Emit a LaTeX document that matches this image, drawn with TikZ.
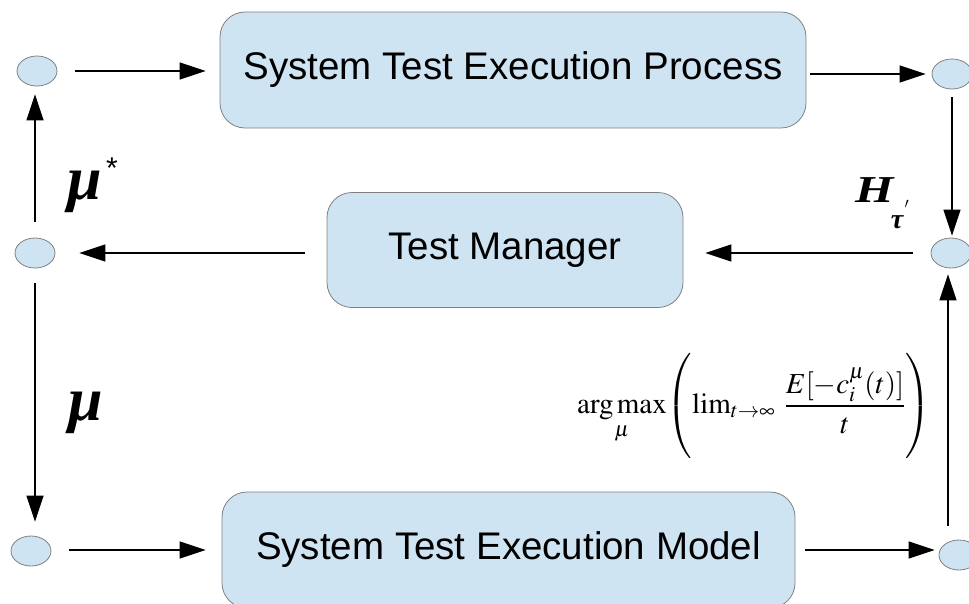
\documentclass[tikz,border=0pt]{standalone}
\usepackage{amsmath}
\usepackage{mathptmx}
\usepackage[no-math]{fontspec}
\setsansfont{Liberation Sans}
\newfontfamily\lserif{Liberation Serif}
\usetikzlibrary{arrows.meta,shapes.geometric}
\definecolor{boxblue}{RGB}{207,228,242}
\definecolor{edgegray}{RGB}{128,128,128}
\begin{document}
\begin{tikzpicture}[x=1pt,y=-1pt,
  dot/.style={ellipse, draw=edgegray, fill=boxblue, minimum width=40pt, minimum height=30pt, inner sep=0pt, line width=0.8pt},
  proc/.style={rectangle, rounded corners=25pt, draw=edgegray, fill=boxblue, inner sep=0pt, line width=0.8pt,
    font=\sffamily\fontsize{38.5}{42}\selectfont},
  arr/.style={-{Triangle[length=26pt,width=17pt]}, line width=1.2pt, black},
  lbl/.style={inner sep=0pt, font=\lserif\bfseries\itshape}]
\useasboundingbox (0,0) rectangle (969,603);
% circles
\node[dot] (cTL) at (37,71) {};
\node[dot] (cTR) at (952,74) {};
\node[dot] (cML) at (35,253) {};
\node[dot] (cMR) at (951,253) {};
\node[dot] (cBL) at (31,551) {};
\node[dot] (cBR) at (959,555) {};
% boxes
\node[proc, minimum width=586pt, minimum height=116pt] (proc) at (513,70) {System Test Execution Process};
\node[proc, minimum width=356pt, minimum height=115pt] (mgr) at (505,250) {Test Manager};
\node[proc, minimum width=573pt, minimum height=116pt] (model) at (508.5,550) {System Test Execution Model};
% arrows
\draw[arr] ([xshift=18pt]cTL.east) -- ([xshift=-14pt]proc.west |- cTL);
\draw[arr] ([xshift=4pt]proc.east |- cTR) -- ([xshift=-6pt]cTR.west);
\draw[arr] ([yshift=-8pt]cTR.south) -- ([yshift=2pt]cTR.south |- cMR.north);
\draw[arr] ([xshift=-18pt]cMR.west) -- ([xshift=22pt]mgr.east |- cMR);
\draw[arr] ([xshift=-22pt]mgr.west |- cML) -- ([xshift=24pt]cML.east);
\draw[arr] ([yshift=16pt]cML.north) -- ([yshift=-8pt]cML.north |- cTL.south);
\draw[arr] ([yshift=-15pt]cML.south) -- ([yshift=14pt]cML.south |- cBL.north);
\draw[arr] ([xshift=18pt]cBL.east |- model) -- ([xshift=-16pt]model.west);
\draw[arr] ([xshift=10pt]model.east) -- ([xshift=-4pt]cBR.west |- model);
\draw[arr] ([xshift=-3pt,yshift=14pt]cMR.south |- cBR.north) -- ([xshift=-3pt,yshift=-6pt]cMR.south);
% labels
\node[lbl, font=\lserif\bfseries\itshape\fontsize{62}{62}\selectfont] (mustar) at (85,192) {μ};
\node[inner sep=0pt, font=\sffamily\fontsize{30}{30}\selectfont] (star) at (112,168) {*};
\node[lbl, font=\lserif\bfseries\itshape\fontsize{62}{62}\selectfont] (mu) at (86,413) {μ};
\node[lbl, font=\lserif\bfseries\itshape\fontsize{38}{38}\selectfont] (H) at (875,190) {\scalebox{1.3}[1]{H}};
\node[lbl, font=\lserif\bfseries\itshape\fontsize{28}{28}\selectfont] (tau) at (897,222) {τ};
\node[inner sep=0pt, font=\fontsize{20}{20}\selectfont] (prime) at (907,208) {$'$};
\node[inner sep=0pt] (formula) at (754,406) {\fontsize{29}{35}\selectfont
  $\displaystyle \mathop{\mathrm{arg\,max}}_{\mu}\!\left(\rule[-44pt]{0pt}{100pt}\!\lim\nolimits_{t\to\infty}\;\frac{E[-c_i^{\mu}(t)]}{t}\right)$};
\end{tikzpicture}
\end{document}
